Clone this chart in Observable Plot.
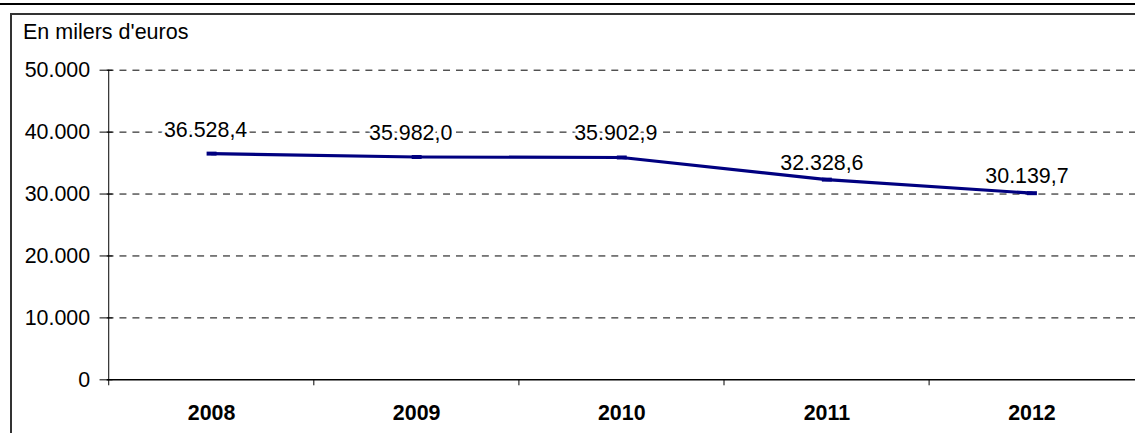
<!DOCTYPE html>
<html>
<head>
<meta charset="utf-8">
<script src="https://cdn.jsdelivr.net/npm/d3@7"></script>
<script src="https://cdn.jsdelivr.net/npm/@observablehq/plot@0.6"></script>
<style>
  html, body { margin: 0; padding: 0; overflow: hidden; background: #fff; width: 1135px; height: 433px; }
  #wrap { position: relative; width: 1135px; height: 433px; overflow: hidden; font-family: "Liberation Sans", Arial, sans-serif; }
  #topline { position: absolute; left: 0; top: 3px; width: 1135px; height: 2px; background: #000; }
  #frame { position: absolute; left: 10px; top: 13px; width: 1140px; height: 440px; border-left: 2px solid #333; border-top: 2px solid #333; }
  #unit { position: absolute; left: 23px; top: 20px; font-size: 21.5px; color: #000; white-space: nowrap; }
  #chart { position: absolute; left: 0; top: 0; width: 1135px; height: 433px; overflow: hidden; }
</style>
</head>
<body>
<div id="wrap">
  <div id="topline"></div>
  <div id="frame"></div>
  <div id="unit"></div>
  <div id="chart"></div>
</div>
<script>
const years = ["2008", "2009", "2010", "2011", "2012"];
const values = [36528.4, 35982.0, 35902.9, 32328.6, 30139.7];
const yTicks = [0, 10000, 20000, 30000, 40000, 50000];
const unitLabel = "En milers d'euros";

const data = years.map((year, i) => ({year, value: values[i]}));
const loc = d3.formatLocale({decimal: ",", thousands: ".", grouping: [3], currency: ["", "€"]});
const fmtInt = loc.format(",");
const fmtDec = loc.format(",.1f");

document.getElementById("unit").textContent = unitLabel;

const half = 1033 / 5 / 2;
const dash = {draw(ctx) { ctx.rect(-5, -2, 10, 4); }};
const fs = 21.5;

const chart = Plot.plot({
  width: 1140,
  height: 433,
  marginLeft: 107,
  marginRight: 0,
  marginTop: 70,
  marginBottom: 52,
  style: {fontFamily: "'Liberation Sans', Arial, sans-serif", fontSize: fs + "px", color: "#000", background: "transparent"},
  x: {type: "point", domain: years, padding: 0.5},
  y: {domain: [0, 50000]},
  marks: [
    Plot.ruleY(yTicks.filter(d => d > 0), {stroke: "#000", strokeWidth: 1, strokeDasharray: "7,6"}),
    Plot.ruleX([years[0]], {dx: -half, y1: 0, y2: 50000, stroke: "#000", strokeWidth: 1}),
    Plot.ruleY([0], {stroke: "#000", strokeWidth: 1.5}),
    Plot.axisY({ticks: yTicks, tickFormat: fmtInt, tickSize: 7, tickPadding: 10, label: null, fontSize: fs}),
    Plot.axisY({ticks: yTicks, tickFormat: () => "", tickSize: -6, label: null}),
    Plot.axisX({tickSize: 6, tickFormat: () => "", dx: -half, label: null}),
    Plot.axisX({tickSize: 0, tickPadding: 25, fontWeight: "bold", fontSize: fs, label: null}),
    Plot.line(data, {x: "year", y: "value", stroke: "#000080", strokeWidth: 3.2}),
    Plot.dot(data, {x: "year", y: "value", symbol: dash, r: 4, fill: "#000080", stroke: null}),
    Plot.text(data.filter((d, i) => i < 3), {x: "year", y: "value", text: d => fmtDec(d.value), dy: -24, dx: -6, fontSize: fs, fill: "#000", stroke: "#fff", strokeWidth: 6, paintOrder: "stroke"}),
    Plot.text(data.filter((d, i) => i >= 3), {x: "year", y: "value", text: d => fmtDec(d.value), dy: -17, dx: -5, fontSize: fs, fill: "#000", stroke: "#fff", strokeWidth: 6, paintOrder: "stroke"})
  ]
});
document.getElementById("chart").appendChild(chart);
</script>
</body>
</html>
